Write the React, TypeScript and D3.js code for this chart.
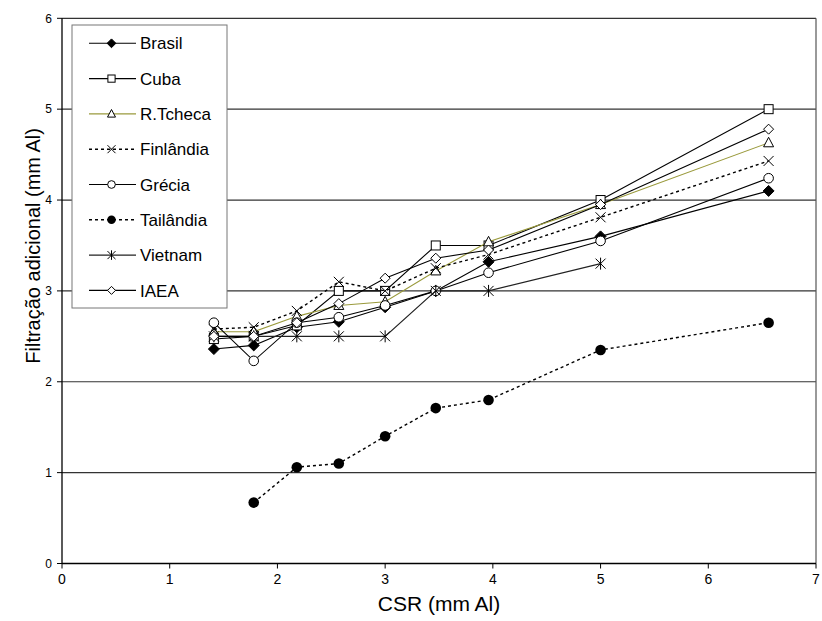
import React from "react";
import * as d3 from "d3";

const W = 822;
const H = 621;

const xTicks = [0, 1, 2, 3, 4, 5, 6, 7];
const yTicks = [0, 1, 2, 3, 4, 5, 6];

const csr = [1.41, 1.78, 2.18, 2.57, 3.0, 3.47, 3.96, 5.0, 6.56];

const brasil = [2.36, 2.40, 2.60, 2.66, 2.82, 3.0, 3.32, 3.60, 4.10];
const cuba = [2.47, 2.50, 2.62, 3.0, 3.0, 3.50, 3.50, 4.0, 5.0];
const rtcheca = [2.55, 2.55, 2.72, 2.84, 2.88, 3.22, 3.54, 3.95, 4.63];
const finlandia = [2.58, 2.60, 2.78, 3.10, 3.0, 3.25, 3.40, 3.81, 4.43];
const grecia = [2.65, 2.23, 2.65, 2.71, 2.84, 3.0, 3.20, 3.55, 4.24];
const tailandia = [null, 0.67, 1.06, 1.10, 1.40, 1.71, 1.80, 2.35, 2.65];
const vietnam = [2.50, 2.50, 2.50, 2.50, 2.50, 3.0, 3.0, 3.30, null];
const iaea = [2.50, 2.50, 2.65, 2.86, 3.14, 3.36, 3.45, 3.95, 4.78];

type Marker = "diamondFill" | "square" | "triangle" | "cross" | "circle" | "dot" | "star" | "diamond";

const seriesNames = ["Brasil", "Cuba", "R.Tcheca", "Finlândia", "Grécia", "Tailândia", "Vietnam", "IAEA"];
const seriesValues = [brasil, cuba, rtcheca, finlandia, grecia, tailandia, vietnam, iaea];
const seriesMarkers: Marker[] = ["diamondFill", "square", "triangle", "cross", "circle", "dot", "star", "diamond"];
const seriesColors = ["#000", "#000", "#9a9a3c", "#000", "#000", "#000", "#222", "#000"];
const seriesDash = [null, null, null, "3,3", null, "3,3", null, null];

const M = { left: 62, right: 816, top: 18.3, bottom: 563.5 };

function MarkerShape({ type, x, y, s = 1 }: { type: Marker; x: number; y: number; s?: number }) {
  const sw = 1;
  const k = (v: number) => v * s;
  switch (type) {
    case "diamondFill":
      return <path d={`M${x},${y - k(5.5)}L${x + k(5.5)},${y}L${x},${y + k(5.5)}L${x - k(5.5)},${y}Z`} fill="#000" stroke="#000" strokeWidth={sw} />;
    case "diamond":
      return <path d={`M${x},${y - k(5)}L${x + k(5)},${y}L${x},${y + k(5)}L${x - k(5)},${y}Z`} fill="#fff" stroke="#000" strokeWidth={sw} />;
    case "square":
      return <rect x={x - k(4.5)} y={y - k(4.5)} width={k(9)} height={k(9)} fill="#fff" stroke="#000" strokeWidth={sw} />;
    case "triangle":
      return <path d={`M${x},${y - k(5.5)}L${x + k(5)},${y + k(4)}L${x - k(5)},${y + k(4)}Z`} fill="#fff" stroke="#000" strokeWidth={sw} />;
    case "cross":
      return <path d={`M${x - k(5)},${y - k(5)}L${x + k(5)},${y + k(5)}M${x - k(5)},${y + k(5)}L${x + k(5)},${y - k(5)}`} fill="none" stroke="#000" strokeWidth={sw} />;
    case "circle":
      return <circle cx={x} cy={y} r={k(4.8)} fill="#fff" stroke="#000" strokeWidth={sw} />;
    case "dot":
      return <circle cx={x} cy={y} r={k(5.3)} fill="#000" />;
    case "star":
      return <path d={`M${x - k(5)},${y - k(5)}L${x + k(5)},${y + k(5)}M${x - k(5)},${y + k(5)}L${x + k(5)},${y - k(5)}M${x},${y - k(6)}L${x},${y + k(6)}`} fill="none" stroke="#000" strokeWidth={sw} />;
  }
  return null;
}

export default function App() {
  const x = d3.scaleLinear().domain([0, 7]).range([M.left, M.right]);
  const y = d3.scaleLinear().domain([0, 6]).range([M.bottom, M.top]);

  const line = d3
    .line<[number, number | null]>()
    .defined((d) => d[1] != null)
    .x((d) => x(d[0]))
    .y((d) => y(d[1] as number));

  const font = "'Liberation Sans', Arial, sans-serif";

  const legX = 72;
  const legY = 25;
  const legW = 155;
  const legH = 283;
  const legStep = 35.3;

  return (
    <svg width={W} height={H} style={{ position: "absolute", left: 0, top: 0, background: "#fff" }} fontFamily={font}>
      <rect x={0} y={0} width={W} height={H} fill="#fff" />
      {yTicks.filter((t) => t > 0).map((t) => (
        <line key={"g" + t} x1={M.left} x2={M.right} y1={y(t)} y2={y(t)} stroke="#333" strokeWidth={1.2} />
      ))}
      <line x1={M.right} x2={M.right} y1={M.top} y2={M.bottom} stroke="#555" strokeWidth={1.2} />
      <line x1={M.left} x2={M.left} y1={M.top} y2={M.bottom} stroke="#000" strokeWidth={1.3} />
      <line x1={M.left} x2={M.right} y1={M.bottom} y2={M.bottom} stroke="#000" strokeWidth={1.3} />
      {yTicks.map((t) => (
        <g key={"yt" + t}>
          <line x1={M.left - 5} x2={M.left} y1={y(t)} y2={y(t)} stroke="#000" />
          <text x={M.left - 10} y={y(t)} dy="0.35em" textAnchor="end" fontSize={12}>
            {t}
          </text>
        </g>
      ))}
      {xTicks.map((t) => (
        <g key={"xt" + t}>
          <line x1={x(t)} x2={x(t)} y1={M.bottom} y2={M.bottom + 5} stroke="#000" />
          <text x={x(t)} y={M.bottom + 20} textAnchor="middle" fontSize={14}>
            {t}
          </text>
        </g>
      ))}
      <text x={(M.left + M.right) / 2} y={611} textAnchor="middle" fontSize={21}>
        CSR (mm Al)
      </text>
      <text transform={`translate(33,${(M.top + M.bottom) / 2 - 45}) rotate(-90)`} textAnchor="middle" dy="0.35em" fontSize={20}>
        Filtração adicional (mm Al)
      </text>

      {seriesValues.map((vals, i) => {
        const pts: [number, number | null][] = csr.map((c, j) => [c, vals[j]]);
        return (
          <g key={"s" + i}>
            <path
              d={line(pts) || ""}
              fill="none"
              stroke={seriesColors[i]}
              strokeWidth={seriesDash[i] ? 1.4 : 1.1}
              strokeDasharray={seriesDash[i] || undefined}
            />
            {pts
              .filter((p) => p[1] != null)
              .map((p, j) => (
                <MarkerShape key={j} type={seriesMarkers[i]} x={x(p[0])} y={y(p[1] as number)} />
              ))}
          </g>
        );
      })}

      <rect x={legX} y={legY} width={legW} height={legH} fill="#fff" stroke="#777" strokeWidth={1} />
      {seriesNames.map((name, i) => {
        const cy = 43.3 + i * legStep;
        return (
          <g key={"l" + i}>
            <line
              x1={89}
              x2={136}
              y1={cy}
              y2={cy}
              stroke={seriesColors[i]}
              strokeWidth={seriesDash[i] ? 1.4 : 1.1}
              strokeDasharray={seriesDash[i] || undefined}
            />
            <MarkerShape type={seriesMarkers[i]} x={111.5} y={cy} s={0.8} />
            <text x={140} y={cy} dy="0.36em" fontSize={17}>
              {name}
            </text>
          </g>
        );
      })}
    </svg>
  );
}
